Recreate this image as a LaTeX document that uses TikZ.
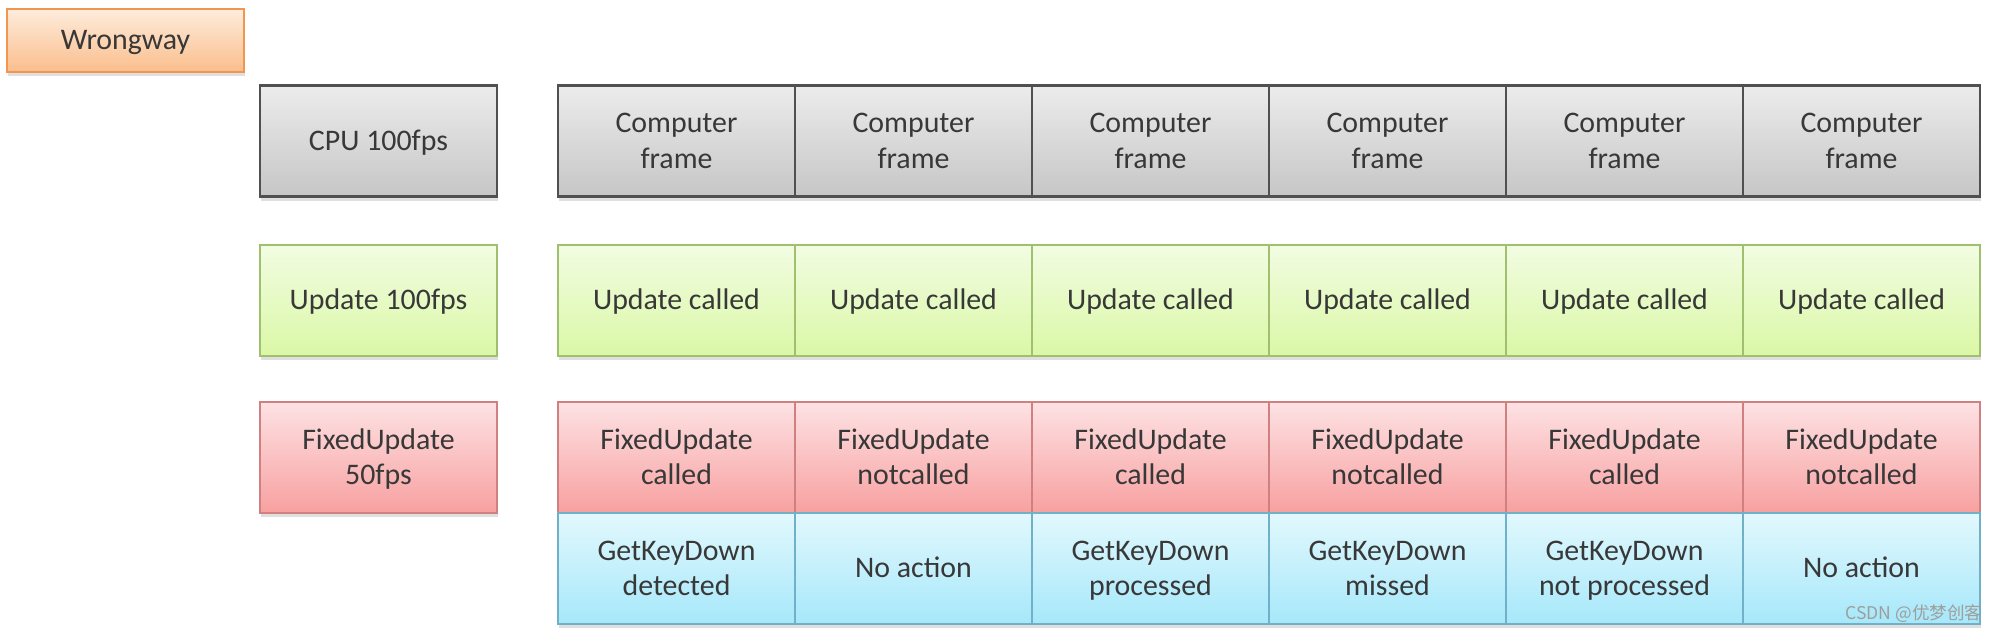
\documentclass[tikz,border=0pt]{standalone}
\usepackage{fontspec}
\setmainfont{Carlito}
\newfontfamily\cjkfont{Noto Sans CJK SC}
\usepackage{tikz}
\usetikzlibrary{shadows}
\definecolor{txtgray}{RGB}{56,56,56}
\definecolor{frametop}{RGB}{236,236,236}
\definecolor{framebot}{RGB}{198,198,198}
\definecolor{frameline}{RGB}{80,80,80}
\definecolor{updtop}{RGB}{242,252,226}
\definecolor{updbot}{RGB}{218,248,166}
\definecolor{updline}{RGB}{160,192,112}
\definecolor{fixtop}{RGB}{253,226,228}
\definecolor{fixbot}{RGB}{248,160,160}
\definecolor{fixline}{RGB}{208,128,128}
\definecolor{keytop}{RGB}{226,248,253}
\definecolor{keybot}{RGB}{166,232,250}
\definecolor{keyline}{RGB}{112,176,200}
\definecolor{waytop}{RGB}{254,236,220}
\definecolor{waybot}{RGB}{250,190,140}
\definecolor{wayline}{RGB}{240,150,80}

\begin{document}
\begin{tikzpicture}[
    cell/.style={draw, line width=0.6pt, minimum width=2.37cm, minimum height=1.11cm,
        align=center, text=txtgray, font=\fontsize{8.5}{10.2}\selectfont,
        text height=5.4pt, text depth=0pt,
        drop shadow={opacity=0.25, shadow xshift=0.4pt, shadow yshift=-1.2pt}},
    two/.style={text height=15.6pt},
    frame/.style={cell, draw=frameline, top color=frametop, bottom color=framebot},
    upd/.style={cell, draw=updline, top color=updtop, bottom color=updbot},
    fix/.style={cell, draw=fixline, top color=fixtop, bottom color=fixbot},
    key/.style={cell, draw=keyline, top color=keytop, bottom color=keybot}
]
\useasboundingbox (0,0) rectangle (20,6.32);

\node[cell, draw=wayline, top color=waytop, bottom color=waybot, minimum height=0.63cm] (way) at (1.255,5.915) {Wrongway};

% row labels
\node[frame] (cpu) at (3.785,4.91) {CPU 100fps};
\node[upd] (upd) at (3.785,3.315) {Update 100fps};
\node[fix, two] (fix) at (3.785,1.745) {FixedUpdate\\50fps};

% computer frames
\node[frame, two] (c1) at (6.765,4.91) {Computer\\frame};
\node[frame, two] (c2) at (9.135,4.91) {Computer\\frame};
\node[frame, two] (c3) at (11.505,4.91) {Computer\\frame};
\node[frame, two] (c4) at (13.875,4.91) {Computer\\frame};
\node[frame, two] (c5) at (16.245,4.91) {Computer\\frame};
\node[frame, two] (c6) at (18.615,4.91) {Computer\\frame};

% update calls
\node[upd] (u1) at (6.765,3.315) {Update called};
\node[upd] (u2) at (9.135,3.315) {Update called};
\node[upd] (u3) at (11.505,3.315) {Update called};
\node[upd] (u4) at (13.875,3.315) {Update called};
\node[upd] (u5) at (16.245,3.315) {Update called};
\node[upd] (u6) at (18.615,3.315) {Update called};

% fixed update calls
\node[fix, two] (f1) at (6.765,1.745) {FixedUpdate\\called};
\node[fix, two] (f2) at (9.135,1.745) {FixedUpdate\\notcalled};
\node[fix, two] (f3) at (11.505,1.745) {FixedUpdate\\called};
\node[fix, two] (f4) at (13.875,1.745) {FixedUpdate\\notcalled};
\node[fix, two] (f5) at (16.245,1.745) {FixedUpdate\\called};
\node[fix, two] (f6) at (18.615,1.745) {FixedUpdate\\notcalled};

% key input
\node[key, two] (k1) at (6.765,0.635) {GetKeyDown\\detected};
\node[key] (k2) at (9.135,0.635) {No action};
\node[key, two] (k3) at (11.505,0.635) {GetKeyDown\\processed};
\node[key, two] (k4) at (13.875,0.635) {GetKeyDown\\missed};
\node[key, two] (k5) at (16.245,0.635) {GetKeyDown\\not processed};
\node[key] (k6) at (18.615,0.635) {No action};

\node[font=\cjkfont\fontsize{5}{6}\selectfont, text=white!62!black, anchor=east, inner sep=0pt] (mark) at (19.83,0.18) {CSDN @优梦创客};
\end{tikzpicture}
\end{document}
